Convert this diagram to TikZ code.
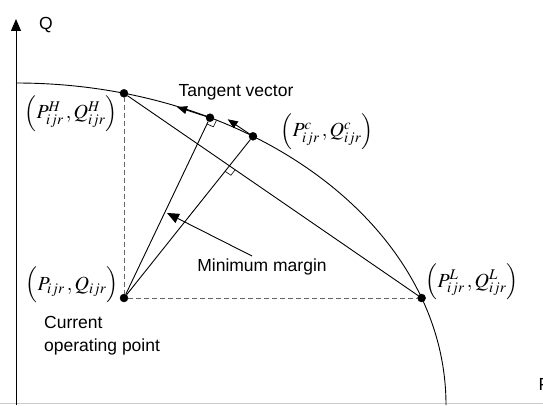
\documentclass[tikz,border=0pt]{standalone}
\usepackage{mathptmx}
\usepackage[no-math]{fontspec}
\setmainfont{Liberation Sans}
\usetikzlibrary{positioning,calc,arrows.meta}
\tikzset{
  wire/.style  = {line width=0.9pt},
  dwire/.style = {line width=1pt, black!60, dash pattern=on 5pt off 3pt},
  awire/.style = {line width=0.9pt, -{Triangle[length=10pt,width=8pt]}},
  bdot/.style  = {circle, draw, fill=black, inner sep=0pt, minimum size=8pt},
  lbl/.style   = {font=\fontsize{17.5}{23}\selectfont, inner sep=1pt},
  mlbl/.style  = {font=\fontsize{20}{24}\selectfont, inner sep=1pt},
}

\begin{document}
\begin{tikzpicture}[x=1pt,y=1pt]
  \clip (0,0) rectangle (543,405);
  % axis and loading boundary
  \draw[black!20, line width=1pt] (0,2) -- (543,2);
  \draw[wire, -{Triangle[length=12pt,width=10pt]}] (16,0) -- (16,386);
  \node[lbl] (qlab) at (46,380) {Q};
  \draw[wire] (16,322) arc[start angle=90, end angle=0, x radius=430pt, y radius=322pt];
  % points on the boundary
  \node[bdot] (op) at (124,107) {};
  \node[bdot] (H) at (124,311.7) {};
  \node[bdot] (M) at (210,287.3) {};
  \node[bdot] (c) at (253,268.7) {};
  \node[bdot] (L) at (421.6,107) {};
  \draw[dwire] (H) -- (op);
  \draw[dwire] (op) -- (L);
  \draw[wire] (H) -- (L);
  \draw[wire] (op) -- (M);
  \draw[wire] (op) -- (c);
  % tangent vectors
  \coordinate (tv1) at (177,298);
  \coordinate (tv2) at (227.7,285.7);
  \draw[awire] (M) -- (tv1);
  \draw[awire] (c) -- (tv2);
  % right angle marks
  \coordinate (ra) at ($(M)!7pt!(c)$);
  \coordinate (rb) at ($(M)!7pt!(op)$);
  \draw[line width=0.6pt] (ra) -- ($(ra)+(rb)-(M)$) -- (rb);
  \coordinate (ft) at (intersection of op.center--c.center and H.center--L.center);
  \coordinate (rc) at ($(ft)!7pt!(L)$);
  \coordinate (rd) at ($(ft)!7pt!(op)$);
  \draw[line width=0.6pt] (rc) -- ($(rc)+(rd)-(ft)$) -- (rd);
  % labels
  \node[lbl] (tvlab) at (236,313) {Tangent vector};
  \node[mlbl] (Hlab) at (71,291) {$\left(P_{ijr}^{H}\,,Q_{ijr}^{H}\right)$};
  \node[mlbl] (clab) at (327,273.5) {$\left(P_{ijr}^{c}\,,Q_{ijr}^{c}\right)$};
  \node[mlbl] (Llab) at (472,123) {$\left(P_{ijr}^{L}\,,Q_{ijr}^{L}\right)$};
  \node[mlbl] (oplab) at (72,120) {$\left(\vphantom{P_{ijr}^{H}}P_{ijr}\,,Q_{ijr}\right)$};
  \node[lbl, align=left, anchor=west] (opname) at (43,69.5) {Current\\operating point};
  \node[lbl] (mm) at (262,138) {Minimum margin};
  \coordinate (mmtail) at (252,149);
  \coordinate (mmtip) at (167,192);
  \draw[line width=0.9pt, -{Triangle[length=12pt,width=10pt]}] (mmtail) -- (mmtip);
  \node[lbl, anchor=west] (plab) at (537.5,21) {P};
\end{tikzpicture}
\end{document}
